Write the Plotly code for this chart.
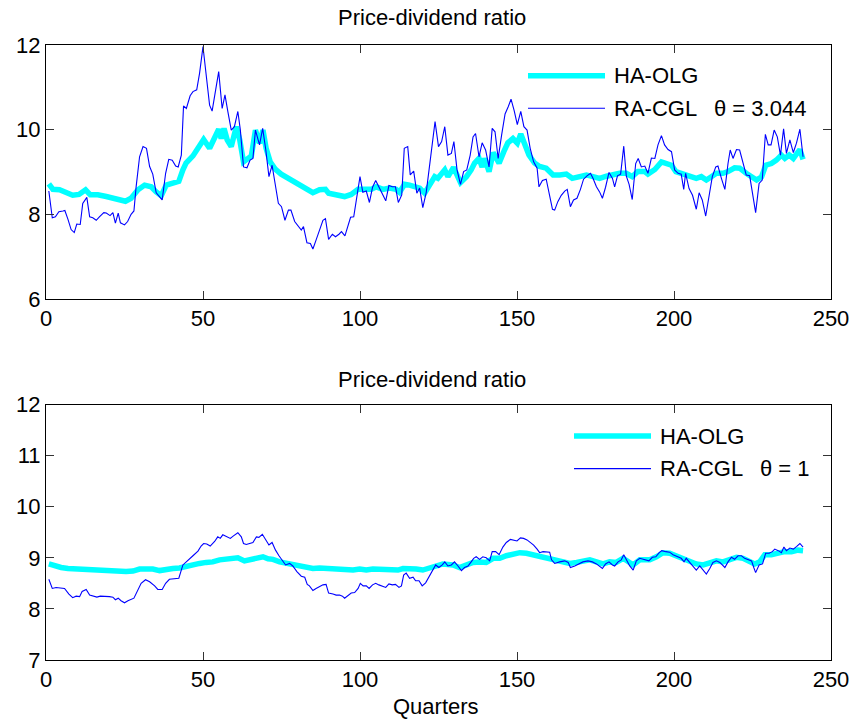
import plotly.graph_objects as go

# ---------------- data ----------------
top_ra_q = [0.9,2,3,4.1,5.4,6,7,8,9,9.8,10.9,11.7,13,13.9,14.9,16,17,18.4,19.2,20.4,21.3,22.1,23,23.7,25,26,27.1,28,28.7,29.8,
            30.9,32,33,34,35.1,36.2,37,38.1,39.1,40.2,41.3,42.1,43.1,43.8,44.7,45.9,46.8,48,48.9,50,51,52.1,52.9,54,55,56.1,57,57.9,59,60,
            61.1,61.9,62.9,64,65,65.9,66.7,68,69,70,71,72,73,74,75,76.1,77.2,78,79.2,80.3,81.3,82,83.1,84.2,85,86,87.1,88.2,89,90,
            91.2,92.2,93.3,94.1,95.2,96.2,97,98,99,100,100.9,102,103,104,105,106,107,108.2,109.2,110.3,111.3,112.2,113.3,114.1,115.2,116,117.1,118.1,119,120,
            121.1,122.4,123.9,125,126,127,128,129.1,129.9,130.9,132,133,134,135.1,136,136.8,137.9,138.9,140,141.1,142.1,143,144,145.1,146.2,147.2,148.1,149.1,150.1,151.2,
            152.2,153.2,154.2,155.3,156.4,157,158.1,159.3,160.4,161.3,162,163,164.1,165.2,166,167,168,169.1,170.2,171.2,172.3,173.4,174.2,175.3,176.3,177.2,178.2,179.3,180.4,181.1,
            182,183,184,184.8,185.7,186.7,187.8,188.6,189.6,190.7,191.7,192.8,193.9,194.9,196,197,198.1,199.2,200.2,201.3,202.3,203.1,203.7,204.8,205.9,207.1,208,209,210.1,211.2,
            212.2,213.3,214,215.1,216.2,217.2,217.9,218.8,219.9,220.9,222,223,224.1,224.9,226,227.1,228.1,229.1,230,230.9,231.9,232.9,233.9,234.9,235.8,236.9,238,239,240.1,241.1]
top_ra_v = [8.55,7.92,7.94,8.06,8.08,8.09,7.88,7.64,7.57,7.77,7.76,8.26,8.40,7.94,7.92,7.86,7.94,8.04,8.03,7.97,8.04,7.79,8.03,7.80,7.75,7.83,8.00,8.08,8.65,9.36,
            9.60,9.56,9.13,8.95,8.51,8.42,8.34,8.97,9.30,9.28,9.14,9.12,9.40,10.56,10.50,10.80,10.90,10.94,11.33,11.96,11.33,10.58,10.44,10.90,11.37,10.50,10.82,10.43,9.99,10.07,
            10.43,9.99,9.12,9.10,9.28,9.32,9.99,9.64,10.03,9.52,8.89,9.16,8.65,8.26,8.18,7.86,8.10,8.10,7.83,7.71,7.63,7.71,7.33,7.31,7.18,7.39,7.65,7.86,7.90,7.41,
            7.53,7.47,7.53,7.59,7.49,7.75,7.93,7.94,8.38,8.89,8.52,8.55,8.28,8.64,8.80,8.64,8.50,8.32,8.68,8.65,8.65,8.28,8.46,9.56,9.60,8.93,9.02,8.50,8.62,8.16,
            8.52,9.32,10.19,9.60,9.72,10.07,9.40,9.44,9.72,9.05,8.71,9.01,9.05,9.40,9.83,9.91,9.36,9.69,9.52,9.12,10.03,9.95,9.32,9.87,10.37,10.54,10.72,10.45,10.12,10.43,
            10.07,9.99,9.56,9.24,9.09,8.65,8.80,8.83,8.42,8.12,8.10,8.30,8.45,8.55,8.59,8.18,8.34,8.38,8.59,8.83,8.91,8.97,8.85,8.65,8.53,8.38,8.64,8.99,8.85,8.65,
            8.91,8.95,9.61,8.91,8.71,8.35,9.20,9.32,9.12,9.14,8.97,9.33,9.32,9.64,9.86,9.64,9.53,9.48,9.05,8.97,8.95,8.59,8.97,8.61,8.45,8.12,8.51,8.34,7.96,8.40,
            8.89,9.12,9.14,8.85,8.59,9.20,9.52,9.32,9.53,9.52,9.20,8.93,8.91,8.50,8.04,8.73,8.81,9.89,9.64,9.64,9.99,9.83,9.40,10.02,9.44,9.76,9.46,9.68,10.01,9.36]

top_ha_q = [0.9,2.2,4.3,6.4,8.5,10.5,12.6,14.1,16.5,19.2,21.8,23.4,25.3,27.1,29.3,31.4,33.5,35.1,36.7,38.3,40.4,42.3,43.6,44.6,46.8,48.7,50.2,52.1,53.7,55,
            55.8,56.7,57.7,59,60.6,61.7,62.9,64.3,65.4,66.7,68,69.1,70.1,71.4,73.1,74.9,77,79.2,81.3,83.4,85,87.1,89,90,92.4,95.1,97.2,99.4,101.5,103.6,
            105.2,107.3,109.4,111.5,112.6,114.2,115.8,117.4,119,120.6,122.2,123.8,124.8,127,128,129.8,132,133.9,135.4,136.5,137.9,138.9,139.7,141.1,142.4,144.3,145.8,147.1,148.7,150.1,
            151.2,152.4,153.8,155.6,157.2,159.3,161.5,163.6,165.7,167.6,170,172.1,174.2,176.3,178.5,180.6,182.7,184.8,186.7,188.5,190.7,191.7,193.9,196,197.6,199.2,200.6,202.2,203.8,205.5,
            207.1,208.7,210.3,211.9,213.5,215.6,217.2,219.3,220.9,223,224.6,226.3,227.9,229.2,231,232.6,234.2,235.3,236.7,238,239,240.1,241.1]
top_ha_v = [8.72,8.59,8.58,8.51,8.45,8.47,8.58,8.46,8.46,8.42,8.38,8.36,8.31,8.38,8.58,8.69,8.65,8.53,8.44,8.69,8.72,8.78,9.05,9.21,9.38,9.60,9.77,9.56,9.79,10.01,
            9.79,10.03,9.76,9.60,10.07,9.76,9.24,9.34,9.38,9.99,9.68,9.99,9.56,9.24,9.06,8.95,8.86,8.77,8.65,8.58,8.51,8.58,8.59,8.50,8.46,8.42,8.47,8.59,8.59,8.59,
            8.65,8.59,8.62,8.59,8.52,8.71,8.69,8.65,8.62,8.50,8.69,8.89,8.85,9.05,8.89,9.11,8.75,8.89,9.05,9.21,9.32,9.12,9.32,9.01,9.46,9.21,9.48,9.69,9.79,9.68,
            9.90,9.64,9.40,9.21,9.13,9.09,8.93,8.93,8.95,8.85,8.89,8.93,8.89,8.85,8.90,8.95,8.97,8.97,8.89,9.01,9.01,8.95,9.06,9.24,9.20,9.16,9.01,8.97,8.95,8.89,
            8.85,8.89,8.81,8.89,8.97,8.97,9.01,9.10,9.09,8.97,8.89,8.81,8.89,9.16,9.20,9.28,9.40,9.32,9.40,9.32,9.42,9.53,9.30]

bot_ra_q = [0.9,2,3.2,4.8,5.9,7.3,8.5,9.6,10.7,11.5,12.8,13.9,15.1,16.2,17.3,18.6,20.2,21.3,22.1,23,23.9,25,26.1,28,29.3,30.3,31.7,33,34.6,35.6,
            37,38.1,39.3,40.9,42.3,43.6,45.2,46.8,48.4,49.4,50.2,51.2,52.3,53.7,54.7,55.5,56.3,57.6,58.7,59.7,61.1,62.2,62.9,63.8,64.8,65.9,67,67.8,68.9,70,
            71,72,73.1,74.2,75.2,76.3,77.6,78.6,79.9,81.3,82.4,83.2,83.9,85,86,87.1,88.2,89.2,90,91.4,92.4,93.5,94.4,95.1,96.2,97.2,98.3,99.4,100.1,101,
            102,102.9,104,105,106,107.1,108.2,109.2,110.3,111.3,112.4,113.2,113.9,114.7,115.8,116.9,117.7,118.8,119.8,120.9,122,123,124.1,125.1,126.2,127,128,129.1,130.1,131.2,
            132.3,133.3,134.4,135.4,136.2,137,138.1,139.1,140.2,141.3,142.1,143.2,144.3,145.5,146.6,147.9,148.9,150,151.1,152.1,153.2,154.2,155.3,156.4,157.2,158.3,159.3,160.4,161,162,
            163.6,165.2,166.3,167,168.4,169.8,171,172.6,174,175.3,176.3,177.2,178.2,179.3,180.4,181.1,182.2,183.2,184,185.1,185.9,187,188,189.1,190.7,192,193.1,194.2,195.3,196.1,
            197.4,198.6,199.7,201,202.3,203.2,203.9,205,206,207.1,208.2,209.3,210.3,211.4,212.4,213.5,214.6,216.2,217.2,218.3,219.3,220.4,221.5,222.5,223.6,224.7,225.4,226,227.1,228.2,
            229.2,230.3,231.3,232.1,233.2,234.2,235,235.8,236.9,238,239,240.1,241.1]
bot_ra_v = [8.58,8.40,8.42,8.40,8.40,8.29,8.22,8.25,8.24,8.34,8.38,8.27,8.25,8.23,8.25,8.25,8.24,8.23,8.18,8.21,8.16,8.12,8.16,8.21,8.38,8.50,8.57,8.53,8.45,8.38,
            8.38,8.50,8.58,8.59,8.60,8.86,8.96,9.04,9.13,9.23,9.28,9.27,9.23,9.32,9.41,9.38,9.45,9.41,9.38,9.43,9.49,9.41,9.28,9.26,9.28,9.30,9.41,9.40,9.46,9.36,
            9.25,9.30,9.15,9.04,8.96,8.86,8.89,8.84,8.73,8.64,8.62,8.48,8.45,8.36,8.40,8.44,8.47,8.48,8.31,8.29,8.27,8.27,8.25,8.21,8.27,8.31,8.32,8.40,8.50,8.45,
            8.45,8.40,8.47,8.50,8.47,8.45,8.42,8.49,8.47,8.48,8.42,8.45,8.66,8.70,8.60,8.62,8.55,8.55,8.45,8.51,8.63,8.76,8.86,8.81,8.86,8.92,8.84,8.86,8.92,8.84,
            8.75,8.81,8.84,8.92,8.99,9.02,8.97,9.02,9.00,8.94,9.12,9.12,9.06,9.21,9.30,9.36,9.34,9.33,9.39,9.38,9.35,9.30,9.25,9.17,9.10,9.12,9.12,9.11,8.96,8.89,
            8.92,8.94,8.91,8.81,8.84,8.88,8.92,8.94,8.92,8.88,8.84,8.79,8.88,8.92,8.86,8.84,8.92,8.96,9.06,8.92,8.84,8.76,8.94,8.99,8.96,8.94,9.01,9.02,9.10,9.14,
            9.12,9.11,9.06,9.02,8.99,8.92,8.99,8.91,8.84,8.76,8.84,8.76,8.68,8.79,8.91,8.94,8.91,8.81,8.92,9.01,8.97,9.04,9.04,8.99,8.96,8.94,8.81,8.71,8.86,8.88,
            9.09,9.09,9.12,9.17,9.14,9.10,9.21,9.14,9.19,9.17,9.22,9.28,9.21]

bot_ha_q = [0.9,2.7,4.8,7,9.6,12.3,14.9,17.6,20.2,22.9,25.5,27.7,29.8,31.9,34,36.2,38.3,40.4,42.5,44.7,46.8,48.9,51,53.1,55.3,57.4,59.5,61.1,63.2,65.4,
            67.5,69.1,70.7,72.3,74.4,76.5,78.6,80.8,82.9,85,87.1,89.2,91.4,93.5,95.6,97.8,99.9,102,104.1,106.3,108.4,110.5,112.1,113.7,115.8,117.9,120,122.2,124.3,126.4,
            128,129.6,131.7,133.9,136,138.1,140.2,142.4,144.5,146.6,148.7,150.9,153,155.1,157.2,159.3,161,162.6,164.7,166.8,169,171,173.2,175.3,177.4,179.5,181.6,183.8,185.4,187,
            189.1,191.2,192.3,194.4,196.5,198.6,200.8,202.9,205,207.1,209.3,211.4,213.5,215.6,217.8,219.9,222,224.1,225.7,227.3,228.9,231,233.1,235.2,237.4,239.5,241.1]
bot_ha_v = [8.88,8.84,8.81,8.79,8.78,8.79,8.78,8.76,8.76,8.75,8.73,8.74,8.78,8.78,8.78,8.75,8.78,8.79,8.80,8.84,8.87,8.89,8.91,8.92,8.96,8.97,8.97,9.00,8.94,8.97,
            9.01,9.02,8.98,8.97,8.92,8.89,8.86,8.84,8.81,8.79,8.80,8.79,8.78,8.76,8.76,8.76,8.78,8.76,8.78,8.78,8.78,8.76,8.76,8.79,8.79,8.78,8.76,8.81,8.86,8.88,
            8.87,8.86,8.81,8.85,8.91,8.92,8.91,8.99,8.99,9.04,9.07,9.10,9.09,9.06,9.02,9.01,8.96,8.94,8.92,8.89,8.91,8.94,8.96,8.92,8.88,8.92,8.91,8.99,8.92,8.86,
            8.96,8.97,8.96,9.02,9.10,9.09,9.04,8.97,8.92,8.88,8.86,8.91,8.94,8.92,8.97,9.01,8.99,8.94,8.88,8.92,9.06,9.06,9.09,9.12,9.12,9.15,9.14]

x_ticks = [0, 50, 100, 150, 200, 250]
top_y_ticks = [6, 8, 10, 12]
bot_y_ticks = [7, 8, 9, 10, 11, 12]
panel_title = "Price-dividend ratio"
x_title = "Quarters"
series_names = ["HA-OLG", "RA-CGL"]
theta_labels = ["θ = 3.044", "θ = 1"]

# ---------------- layout geometry ----------------
W, H = 855, 723
L, R, T, B = 46, 24, 45, 63
PW, PH = W - L - R, H - T - B
def px(x):
    return (x - L) / PW
def py(y):
    return (H - B - y) / PH

top_dom = [py(299), 1.0]
bot_dom = [0.0, py(404.5)]

CYAN = "#00FFFF"
BLUE = "#0000FF"
FONT = "Liberation Sans, Arial, sans-serif"
FS = 22

fig = go.Figure()
fig.add_trace(go.Scatter(x=top_ha_q, y=top_ha_v, mode="lines", line=dict(color=CYAN, width=5.5),
                         xaxis="x", yaxis="y", showlegend=False))
fig.add_trace(go.Scatter(x=top_ra_q, y=top_ra_v, mode="lines", line=dict(color=BLUE, width=1.1),
                         xaxis="x", yaxis="y", showlegend=False))
fig.add_trace(go.Scatter(x=bot_ha_q, y=bot_ha_v, mode="lines", line=dict(color=CYAN, width=5.5),
                         xaxis="x2", yaxis="y2", showlegend=False))
fig.add_trace(go.Scatter(x=bot_ra_q, y=bot_ra_v, mode="lines", line=dict(color=BLUE, width=1.1),
                         xaxis="x2", yaxis="y2", showlegend=False))

axis_common = dict(showgrid=False, zeroline=False, showline=True, linecolor="black", linewidth=1,
                   mirror="ticks", ticks="inside", ticklen=8, tickcolor="#333333", tickwidth=1,
                   automargin=False,
                   tickfont=dict(family=FONT, size=FS, color="black"))

fig.update_layout(
    width=W, height=H,
    margin=dict(l=L, r=R, t=T, b=B, pad=0, autoexpand=False),
    paper_bgcolor="white", plot_bgcolor="white",
    showlegend=False,
    font=dict(family=FONT, size=FS, color="black"),
    xaxis=dict(domain=[0, 1], range=[0, 250], tickvals=x_ticks, anchor="y", **axis_common),
    yaxis=dict(domain=top_dom, range=[6, 12], tickvals=top_y_ticks, anchor="x", **axis_common),
    xaxis2=dict(domain=[0, 1], range=[0, 250], tickvals=x_ticks, anchor="y2", **axis_common),
    yaxis2=dict(domain=bot_dom, range=[7, 12], tickvals=bot_y_ticks, anchor="x2", **axis_common),
)

ann = []
shapes = []
def text(x, y, s, anchor="center"):
    ann.append(dict(x=px(x), y=py(y), xref="paper", yref="paper", text=s, showarrow=False,
                    xanchor=anchor, yanchor="middle", font=dict(family=FONT, size=FS, color="black")))

# titles
text(432, 18, panel_title)
text(432, 379, panel_title)
text(436, 706, x_title)

# legends (drawn manually to match line sample length)
def legend(x0, x1, ytop, theta_x, theta):
    shapes.append(dict(type="line", xref="paper", yref="paper", x0=px(x0), x1=px(x1),
                       y0=py(ytop), y1=py(ytop), line=dict(color=CYAN, width=5.5)))
    shapes.append(dict(type="line", xref="paper", yref="paper", x0=px(x0), x1=px(x1),
                       y0=py(ytop + 32.6), y1=py(ytop + 32.6), line=dict(color=BLUE, width=1.1)))
    text(x1 + 7, ytop, series_names[0], "left")
    text(x1 + 7, ytop + 32.6, series_names[1], "left")
    text(theta_x, ytop + 32.6, theta, "left")

legend(528, 605, 75.7, 712, theta_labels[0])
legend(574, 651, 436, 758, theta_labels[1])

fig.update_layout(annotations=ann, shapes=shapes)
fig.write_html("out.html",
               config={"displayModeBar": False},
               post_script="document.body.style.margin='0';document.body.style.padding='0';document.body.style.overflow='hidden';")
